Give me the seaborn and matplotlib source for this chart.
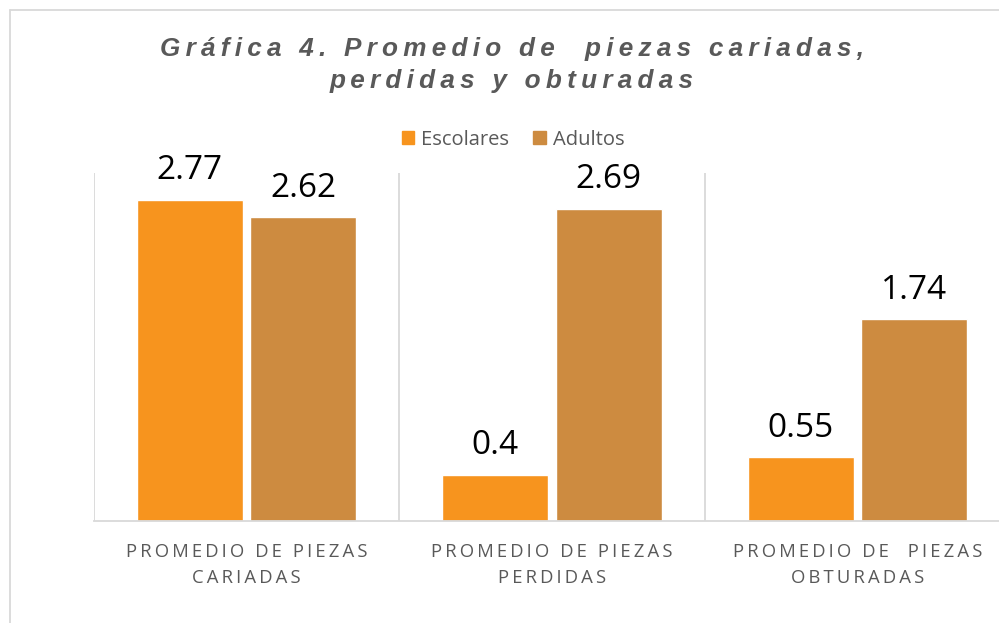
import pandas as pd
import matplotlib.pyplot as plt
import seaborn as sns
from matplotlib.lines import Line2D

# Datos de la gráfica
categorias = ['PROMEDIO DE PIEZAS\nCARIADAS', 'PROMEDIO DE PIEZAS\nPERDIDAS', 'PROMEDIO DE  PIEZAS\nOBTURADAS']
escolares = [2.77, 0.4, 0.55]
adultos = [2.62, 2.69, 1.74]
grupos = ['Escolares', 'Adultos']
colores = ['#F7941E', '#CD8B40']

df = pd.DataFrame({
    'categoria': categorias * 2,
    'valor': escolares + adultos,
    'grupo': [grupos[0]] * 3 + [grupos[1]] * 3,
})

sns.set_theme(style='white')
plt.rcParams['font.family'] = ['Open Sans', 'DejaVu Sans']

# espaciado entre letras con espacios finos
def espaciar(texto, sep='\u2009'):
    return '\n'.join(sep.join(linea) for linea in texto.split('\n'))

fig = plt.figure(figsize=(9.99, 6.23), dpi=100)
ax = fig.add_axes([94 / 999, 102 / 623, 916 / 999, 348 / 623])

sns.barplot(data=df, x='categoria', y='valor', hue='grupo', palette=colores,
            width=0.744, gap=0.067, saturation=1, ax=ax, legend=False)

for cont in ax.containers:
    ax.bar_label(cont, fmt='%g', padding=9, fontsize=24, color='black')

ax.set_ylim(0, 3.0)
ax.set_xlim(-0.5, 2.5)
ax.set_yticks([])
ax.set_xlabel('')
ax.set_ylabel('')
ax.set_xticks(range(3))
ax.set_xticklabels([espaciar(c) for c in categorias], fontsize=13.3, color='#595959',
                   linespacing=1.55)
ax.tick_params(axis='x', length=0, pad=16)

for s in ['top', 'right', 'left']:
    ax.spines[s].set_visible(False)
ax.spines['bottom'].set_color('#D9D9D9')
ax.spines['bottom'].set_linewidth(1.3)
for xv in [-0.5, 0.5, 1.5]:
    ax.axvline(xv, color='#D9D9D9', lw=1.3)

# leyenda
handles = [plt.Rectangle((0, 0), 1, 1, color=c) for c in colores]
fig.legend(handles, grupos, loc='center', bbox_to_anchor=(513 / 999, 1 - 140 / 623),
           ncol=2, frameon=False, fontsize=14.5, handlelength=0.62, handleheight=0.62,
           handletextpad=0.35, columnspacing=1.2, labelcolor='#595959')

# título
titulo = 'Gráfica 4. Promedio de  piezas cariadas,\nperdidas y obturadas'
fig.text(512 / 999, 1 - 65 / 623, espaciar(titulo, '\u2009'), ha='center', va='center',
         fontsize=18.8, fontweight='bold', fontstyle='italic', color='#595959',
         family=['Liberation Sans', 'DejaVu Sans'], linespacing=1.45)

# borde del gráfico
fig.add_artist(Line2D([10 / 999, 10 / 999], [0, 1 - 10 / 623], transform=fig.transFigure,
                      color='#D9D9D9', lw=1.3))
fig.add_artist(Line2D([10 / 999, 1], [1 - 10 / 623, 1 - 10 / 623], transform=fig.transFigure,
                      color='#D9D9D9', lw=1.3))

fig.savefig('out.png', dpi=100)
